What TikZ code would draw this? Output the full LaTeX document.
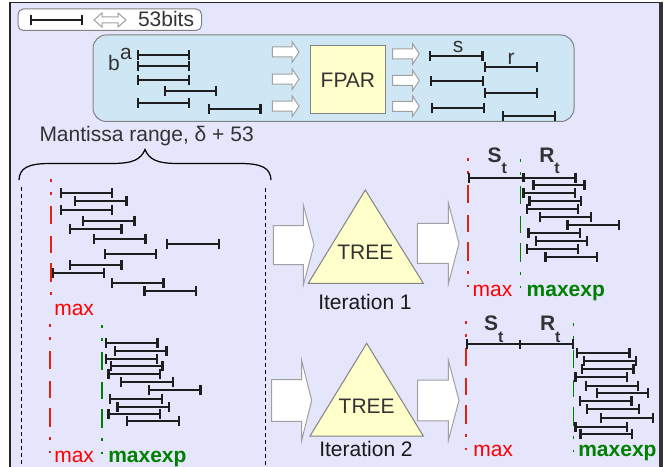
\documentclass[tikz,border=0pt]{standalone}
\usepackage{fontspec}
\setmainfont{Liberation Sans}
\usetikzlibrary{arrows.meta}
\definecolor{lav}{RGB}{229,229,252}
\definecolor{boxblue}{RGB}{207,231,245}
\definecolor{boxedge}{RGB}{130,130,130}
\definecolor{yel}{RGB}{255,255,204}
\definecolor{txt}{RGB}{51,51,51}
\definecolor{barc}{RGB}{30,30,30}
\definecolor{arredge}{RGB}{160,160,160}
\definecolor{redline}{RGB}{225,35,15}
\definecolor{redtxt}{RGB}{255,0,0}
\definecolor{grn}{RGB}{0,128,0}
\tikzset{
  ibar/.style={draw=barc, line width=1.5pt, {Bar[width=7.5pt,line width=1.8pt]}-{Bar[width=7.5pt,line width=1.8pt]}},
  tick/.style={draw=barc, line width=1.8pt},
  blockarr/.style={draw=arredge, fill=white, line width=0.75pt, line join=miter},
  ddline/.style={line width=1.2pt, dash pattern=on 2.25pt off 7.5pt on 2.25pt off 8.25pt on 13.5pt off 9pt on 12.75pt off 7.5pt on 14.25pt off 7.5pt on 2.25pt off 8.25pt on 1.5pt off 30pt},
  blackdash/.style={draw=black, line width=0.75pt, dash pattern=on 3pt off 2.25pt},
  lbl/.style={anchor=base west},
}
\newcommand{\blkarrow}[6]{%
  \draw[blockarr] (#1,#4-#5) -- (#2,#4-#5) -- (#2,#4-#6) -- (#3,#4) -- (#2,#4+#6) -- (#2,#4+#5) -- (#1,#4+#5) -- cycle;}
\begin{document}
\begin{tikzpicture}[x=0.75pt,y=-0.75pt,
  every node/.style={inner sep=0pt, outer sep=0pt, font=\fontsize{15.75}{18}\selectfont, text=txt}]
\useasboundingbox (0,0) rectangle (665,467);
% frame
\fill[white] (0,0) rectangle (665,467);
\fill[lav] (10,2.5) rectangle (661,470);
\draw[line width=0.9pt, black!85] (10,470) -- (10,2.5) -- (660,2.5);
\fill[black!80] (659,2) rectangle (663,470);

% legend
\draw[boxedge, fill=white, line width=0.75pt, rounded corners=4pt] (18,9) rectangle (201.5,30.5);
\draw[ibar] (30,20.5) -- (83,20.5);
\draw[arredge, fill=white, line width=0.75pt] (94,20) -- (102,13) -- (102,17) -- (118,17) -- (118,13) -- (126,20) -- (118,27) -- (118,23) -- (102,23) -- (102,27) -- cycle;
\node[lbl] (bits) at (138,27) {53bits};

% FPAR box
\draw[boxedge, fill=boxblue, line width=0.75pt, rounded corners=10pt] (93,35) rectangle (574,121.5);
\foreach \xa/\xb/\yy in {137/190/55, 137/190/66, 137/190/80, 164/217/90.7, 137/190/102.7, 208/261.5/109}
  \draw[ibar] (\xa,\yy) -- (\xb,\yy);
\node[lbl] (la) at (120,59.5) {a};
\node[lbl] (lb) at (108,71) {b};
\foreach \yc in {52,79.2,106.2} {\blkarrow{272.3}{292}{299}{\yc}{5}{10.5}}
\draw[boxedge, fill=yel, line width=0.75pt] (310,46) rectangle (385.7,114);
\node (fpar) at (347.9,80.5) {FPAR};
\foreach \yc in {54,80.5,106.3} {\blkarrow{392.7}{412.5}{419.3}{\yc}{5}{10.5}}
\foreach \xa/\xb/\yy in {429/483.5/56, 483.5/538.3/67.3, 430/484/81, 484/538.3/92.7, 431/485/108.3, 501.7/556/116}
  \draw[ibar] (\xa,\yy) -- (\xb,\yy);
\node[anchor=base] (ls) at (458,53) {s};
\node[anchor=base] (lr) at (511,65) {r};

% mantissa range + brace
\node[lbl] (mant) at (39.5,141.5) {Mantissa range, δ + 53};
\draw[black, line width=0.9pt] (19,180) .. controls (19.5,168) and (28,163.5) .. (50,163.5) -- (112,163.5) .. controls (134,163.5) and (141,159) .. (145,149.5) .. controls (149,159) and (156,163.5) .. (178,163.5) -- (240,163.5) .. controls (262,163.5) and (270.5,168) .. (271,180);
\draw[blackdash] (21.3,187) -- (21.3,470);
\draw[blackdash] (265.7,188) -- (265.7,470);

% group 1
\draw[ddline, redline] (50.7,179) -- (50.7,297);
\foreach \xa/\xb/\yy in {60/113.3/192.7, 74/127.7/200.7, 60/113.3/210, 81.7/135.7/220.7, 69/122.7/229.3, 92.7/146.7/239, 166/220/244, 103.7/157/254, 69/122.7/264.7, 51.7/105.3/273.3, 110.7/164.7/282.7, 143.3/197/290.7}
  \draw[ibar] (\xa,\yy) -- (\xb,\yy);
\node[lbl, text=redtxt] (max1) at (54.3,315) {max};

% group 2
\draw[ddline, redline] (50,324) -- (50,453);
\draw[ddline, grn] (102,325) -- (102,454);
\foreach \xa/\xb/\yy in {105/158.7/342.7, 114/167.7/350.7, 104.7/158.3/358.7, 110/163.7/366.3, 107.3/161/373.7, 120/174/381.7, 147.7/201.7/390, 109/163/398.7, 116.3/170.3/406.7, 107.3/161/413.7, 126/180/421.3}
  \draw[ibar] (\xa,\yy) -- (\xb,\yy);
\node[lbl, text=redtxt] (max2) at (54.3,462) {max};
\node[lbl, text=grn, font=\fontsize{15.75}{18}\selectfont\bfseries] (mexp2) at (108.3,462) {maxexp};

% iteration 1
\blkarrow{273.3}{303.3}{314}{245}{19.5}{40}
\blkarrow{417.3}{448.3}{459}{243.4}{20}{40.7}
\draw[boxedge, fill=yel, line width=0.75pt] (365.3,190) -- (423.3,283.3) -- (308.3,283.3) -- cycle;
\node (tree1) at (365.3,252.5) {TREE};
\node[anchor=base, text=black!90] (it1) at (365,309) {Iteration 1};
\draw[ddline, redline] (468,158) -- (468,287);
\draw[ddline, grn] (520.3,159) -- (520.3,288);
\node[lbl, font=\fontsize{15.75}{18}\selectfont\bfseries] (st1) at (487.7,162) {S\raisebox{-9pt}{\fontsize{12}{12}\selectfont\bfseries t}};
\node[lbl, font=\fontsize{15.75}{18}\selectfont\bfseries] (rt1) at (539.3,162) {R\raisebox{-9pt}{\fontsize{12}{12}\selectfont\bfseries t}};
\draw[ibar] (468,177.7) -- (576.7,177.7);
\draw[tick] (523.3,173) -- (523.3,182.4);
\foreach \xa/\xb/\yy in {532.3/585.7/185, 522.3/576/193.3, 528.3/582/201.3, 525.7/579.3/209, 538.7/592.3/217.3, 566.3/620/225.3, 527.3/581/233.3, 534.7/588.3/240.7, 525.7/579.3/248.7, 544.3/598.3/256.7}
  \draw[ibar] (\xa,\yy) -- (\xb,\yy);
\node[lbl, text=redtxt] (max3) at (472.7,296.7) {max};
\node[lbl, text=grn, font=\fontsize{15.75}{18}\selectfont\bfseries] (mexp3) at (526.7,296.7) {maxexp};

% iteration 2
\blkarrow{271.7}{301.7}{311.7}{400.5}{20.8}{39.7}
\blkarrow{417.7}{448.3}{459}{400.4}{20.4}{40.3}
\draw[boxedge, fill=yel, line width=0.75pt] (366.7,343.3) -- (423.3,436) -- (310,436) -- cycle;
\node (tree2) at (366.7,406) {TREE};
\node[anchor=base, text=black!90] (it2) at (366,456) {Iteration 2};
\draw[ddline, redline] (465.7,320.7) -- (465.7,449.7);
\draw[ddline, grn] (573.3,322.7) -- (573.3,451.7);
\node[lbl, font=\fontsize{15.75}{18}\selectfont\bfseries] (st2) at (484,330) {S\raisebox{-9pt}{\fontsize{12}{12}\selectfont\bfseries t}};
\node[lbl, font=\fontsize{15.75}{18}\selectfont\bfseries] (rt2) at (540,330) {R\raisebox{-9pt}{\fontsize{12}{12}\selectfont\bfseries t}};
\draw[ibar] (465.7,344.3) -- (574.3,344.3);
\draw[tick] (520,339.6) -- (520,349);
\foreach \xa/\xb/\yy in {576/630.7/353.3, 582.7/637.3/360.7, 580.7/634.7/369, 574.3/628.3/377.3, 585/639/385.7, 595.7/649.3/393.3, 579/632.7/400.7, 586/640/409.3, 600/654/418, 574.3/628.3/427.3, 579.3/633.3/434.3}
  \draw[ibar] (\xa,\yy) -- (\xb,\yy);
\node[lbl, text=redtxt] (max4) at (473.3,456) {max};
\node[lbl, text=grn, font=\fontsize{15.75}{18}\selectfont\bfseries] (mexp4) at (578.3,456) {maxexp};
\end{tikzpicture}
\end{document}
